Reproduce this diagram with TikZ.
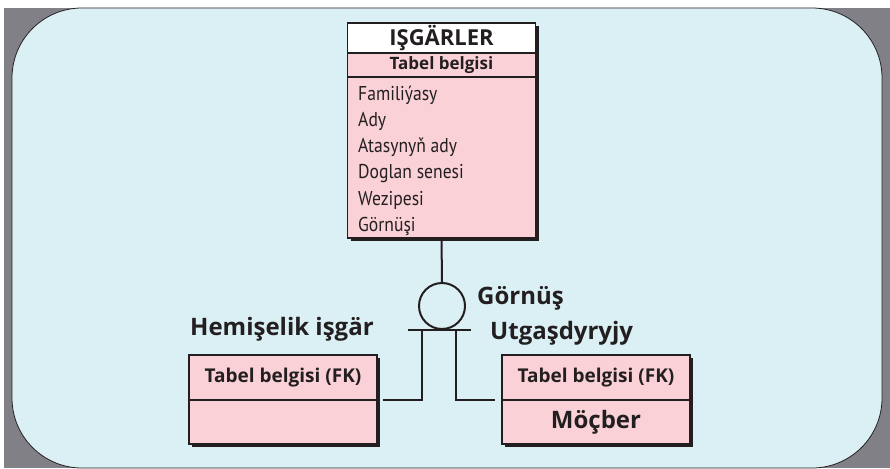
\documentclass[tikz,border=0pt]{standalone}
\usepackage{fontspec}
\setmainfont{Open Sans}
\newfontfamily\attrfont[FakeStretch=0.88]{PT Sans}
\usetikzlibrary{positioning,shadows}
\definecolor{panelblue}{HTML}{DBF0F5}
\definecolor{framegray}{HTML}{808086}
\definecolor{rowpink}{HTML}{F9D1D7}
\definecolor{inkblack}{HTML}{231F20}

\begin{document}
\begin{tikzpicture}[x=1pt, y=-1pt,
    row/.style={draw=inkblack, line width=1.3pt, fill=rowpink, minimum width=188pt, inner sep=0pt, outer sep=0pt, text=inkblack, font=\bfseries\fontsize{19}{22}\selectfont, drop shadow={shadow xshift=3pt, shadow yshift=-3pt, fill=inkblack, opacity=1}},
    attr/.style={inner sep=0pt, text=inkblack, font=\attrfont\fontsize{20}{24}\selectfont},
    lbl/.style={inner sep=0pt, text=inkblack, font=\bfseries\fontsize{24}{28}\selectfont},
    link/.style={draw=inkblack, line width=2pt},
]
\useasboundingbox (0,0) rectangle (890,468);
% frame
\fill[framegray] (4,8) rectangle (890,468);
\draw[inkblack, line width=0.8pt, fill=panelblue, rounded corners=70pt] (12,8) rectangle (882,468);

% main table
\node[row, fill=white, minimum height=30pt, font=\bfseries\fontsize{22}{26}\selectfont] (mainhead) at (441.5,38) {IŞGÄRLER};
\node[row, minimum height=24pt, font=\bfseries\fontsize{17}{20}\selectfont, below=0pt of mainhead] (mainpk) {Tabel belgisi};
\node[row, minimum height=161pt, below=0pt of mainpk] (mainbody) {};
\foreach \attrname [count=\i from 0] in {Familiýasy, Ady, Atasynyň ady, Doglan senesi, Wezipesi, Görnüşi}
  \node[attr, anchor=base west] (attr\i) at (358,100+26.3*\i) {\attrname};

% subtype tables
\node[row, minimum height=45pt] (hemifk) at (283,377.5) {Tabel belgisi (FK)};
\node[row, minimum height=44pt, below=0pt of hemifk] (hemibody) {};
\node[row, minimum height=45pt] (utgfk) at (596,377.5) {Tabel belgisi (FK)};
\node[row, minimum height=44pt, font=\bfseries\fontsize{24}{28}\selectfont, below=0pt of utgfk] (utgbody) {Möçber};

% labels
\node[lbl, anchor=base west] (hemilbl) at (190,335) {Hemişelik işgär};
\node[lbl, anchor=base west] (kindlbl) at (477,304) {Görnüş};
\node[lbl, anchor=base west] (utglbl) at (490,339) {Utgaşdyryjy};

% subtype symbol
\node[draw=inkblack, circle, line width=2pt, minimum size=46pt, inner sep=0pt] (kind) at (442,306) {};
\coordinate (barL) at ([xshift=-34pt]kind.south);
\coordinate (barR) at ([xshift=29pt]kind.south);
\coordinate (legL) at ([xshift=-20pt]kind.south);
\coordinate (legR) at ([xshift=14pt]kind.south);

\draw[link] (mainbody.south) -- (kind.north);
\draw[link] (barL) -- (barR);
\draw[link] (legL) |- ([xshift=6pt]hemifk.south east);
\draw[link] (legR) |- ([xshift=-7pt]utgfk.south west);
\end{tikzpicture}
\end{document}
